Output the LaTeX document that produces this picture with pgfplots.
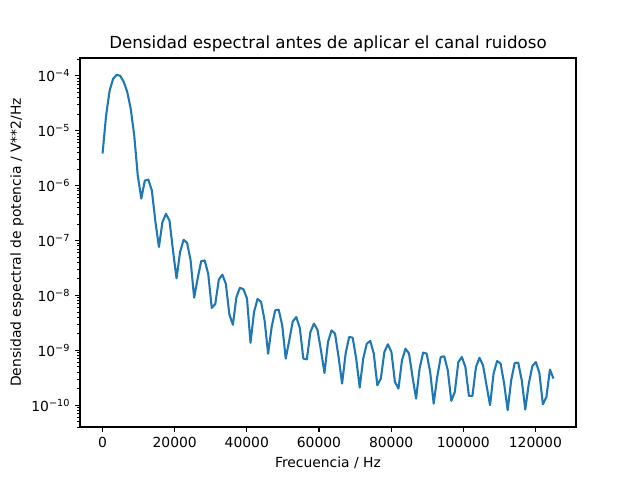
\documentclass[border=0pt]{standalone}
\usepackage{pgfplots}
\pgfplotsset{compat=1.18}
\usepackage{fontspec}
\setmainfont{DejaVu Sans}
\definecolor{mplblue}{HTML}{1F77B4}
\begin{document}
\begin{tikzpicture}
\useasboundingbox (0,0) rectangle (460.8pt,345.6pt);
\begin{axis}[
  at={(57.6pt,38.16pt)}, anchor=south west,
  scale only axis, width=357.12pt, height=265.68pt,
  ymode=log,
  xmin=-6250, xmax=131250,
  ymin=4.01e-11, ymax=2.107e-4,
  axis line style={line width=0.8pt},
  tick align=outside,
  xtick pos=bottom, ytick pos=left,
  scaled x ticks=false,
  major tick length=3.5pt, minor tick length=2pt,
  every tick/.style={black, line width=0.8pt},
  minor tick style={line width=0.6pt},
  xtick={0,20000,40000,60000,80000,100000,120000},
  xticklabels={0,20000,40000,60000,80000,100000,120000},
  ytick={1e-10,1e-9,1e-8,1e-7,1e-6,1e-5,1e-4},
  yticklabels={10\textsuperscript{−10},10\textsuperscript{−9},10\textsuperscript{−8},10\textsuperscript{−7},10\textsuperscript{−6},10\textsuperscript{−5},10\textsuperscript{−4}},
  minor ytick={4e-11,5e-11,6e-11,7e-11,8e-11,9e-11,
    2e-10,3e-10,4e-10,5e-10,6e-10,7e-10,8e-10,9e-10,
    2e-9,3e-9,4e-9,5e-9,6e-9,7e-9,8e-9,9e-9,
    2e-8,3e-8,4e-8,5e-8,6e-8,7e-8,8e-8,9e-8,
    2e-7,3e-7,4e-7,5e-7,6e-7,7e-7,8e-7,9e-7,
    2e-6,3e-6,4e-6,5e-6,6e-6,7e-6,8e-6,9e-6,
    2e-5,3e-5,4e-5,5e-5,6e-5,7e-5,8e-5,9e-5,2e-4},
  tick label style={font=\fontsize{10pt}{12pt}\selectfont},
  xlabel={Frecuencia / Hz},
  ylabel={Densidad espectral de potencia / V**2/Hz},
  xlabel style={at={(axis description cs:0.5,-0.0975)}, anchor=center, font=\fontsize{10pt}{12pt}\selectfont},
  ylabel style={at={(axis description cs:-0.127,0.5)}, anchor=center, rotate=0, font=\fontsize{10pt}{12pt}\selectfont},
  title={Densidad espectral antes de aplicar el canal ruidoso},
  title style={at={(axis description cs:0.5,1.0407)}, anchor=center, yshift=-7pt, font=\fontsize{12pt}{14pt}\selectfont},
]
\addplot[mplblue, line width=1.5pt, line join=round] table {
x y
0 3.82e-6
976.56 1.87e-5
1953.13 5.34e-5
2929.69 8.82e-5
3906.25 1.04e-4
4882.81 1.0e-4
5859.38 7.78e-5
6835.94 5.12e-5
7812.5 2.51e-5
8789.06 8.11e-6
9765.63 1.52e-6
10742.19 5.80e-7
11718.75 1.23e-6
12695.31 1.29e-6
13671.88 8.11e-7
14648.44 2.22e-7
15625 7.62e-8
16601.56 2.15e-7
17578.13 3.06e-7
18554.69 2.31e-7
19531.25 6.58e-8
20507.81 2.04e-8
21484.38 6.12e-8
22460.94 1.03e-7
23437.5 9.08e-8
24414.06 4.33e-8
25390.63 9.08e-9
26367.19 2.04e-8
27343.75 4.21e-8
28320.31 4.33e-8
29296.88 2.46e-8
30273.44 5.93e-9
31250 6.95e-9
32226.56 1.93e-8
33203.13 2.39e-8
34179.69 1.63e-8
35156.25 4.51e-9
36132.81 2.91e-9
37109.38 9.31e-9
38085.94 1.38e-8
39062.5 1.29e-8
40039.06 8.82e-9
41015.63 1.37e-9
41992.19 4.97e-9
42968.75 8.64e-9
43945.31 7.62e-9
44921.88 3.51e-9
45898.44 8.64e-10
46875 2.65e-9
47851.56 5.34e-9
48828.13 5.50e-9
49804.69 2.85e-9
50781.25 7.06e-10
51757.81 1.52e-9
52734.38 3.37e-9
53710.94 4.03e-9
54687.5 2.54e-9
55664.06 7.06e-10
56640.63 6.86e-10
57617.19 2.15e-9
58593.75 3.06e-9
59570.31 2.38e-9
60546.88 1.0e-9
61523.44 3.87e-10
62500 1.42e-9
63476.56 2.31e-9
64453.13 2.01e-9
65429.69 7.55e-10
66406.25 2.48e-10
67382.81 8.71e-10
68359.38 1.75e-9
69335.94 1.70e-9
70312.5 7.06e-10
71289.06 2.10e-10
72265.63 7.06e-10
73242.19 1.32e-9
74218.75 1.48e-9
75195.31 8.71e-10
76171.88 2.31e-10
77148.44 3.06e-10
78125 9.31e-10
79101.56 1.29e-9
80078.13 9.31e-10
81054.69 2.65e-10
82031.25 2.01e-10
83007.81 6.58e-10
83984.38 1.07e-9
84960.94 8.71e-10
85937.5 3.27e-10
86914.06 1.32e-10
87890.63 4.64e-10
88867.19 9.08e-10
89843.75 8.71e-10
90820.31 4.03e-10
91796.88 1.07e-10
92773.44 3.27e-10
93750 7.55e-10
94726.56 7.78e-10
95703.13 4.33e-10
96679.69 1.20e-10
97656.25 1.75e-10
98632.81 6.12e-10
99609.38 7.55e-10
100585.94 4.97e-10
101562.5 1.48e-10
102539.06 1.48e-10
103515.63 4.97e-10
104492.19 7.31e-10
105468.75 5.34e-10
106445.31 2.31e-10
107421.88 1.0e-10
108398.44 3.77e-10
109375 6.38e-10
110351.56 5.73e-10
111328.13 2.48e-10
112304.69 8.11e-11
113281.25 2.85e-10
114257.81 5.88e-10
115234.38 5.97e-10
116210.94 2.85e-10
117187.5 8.36e-11
118164.06 2.48e-10
119140.63 5.12e-10
120117.19 6.12e-10
121093.75 3.87e-10
122070.31 1.04e-10
123046.88 1.42e-10
124023.44 4.46e-10
125000 3.06e-10
};
\end{axis}
\end{tikzpicture}
\end{document}
